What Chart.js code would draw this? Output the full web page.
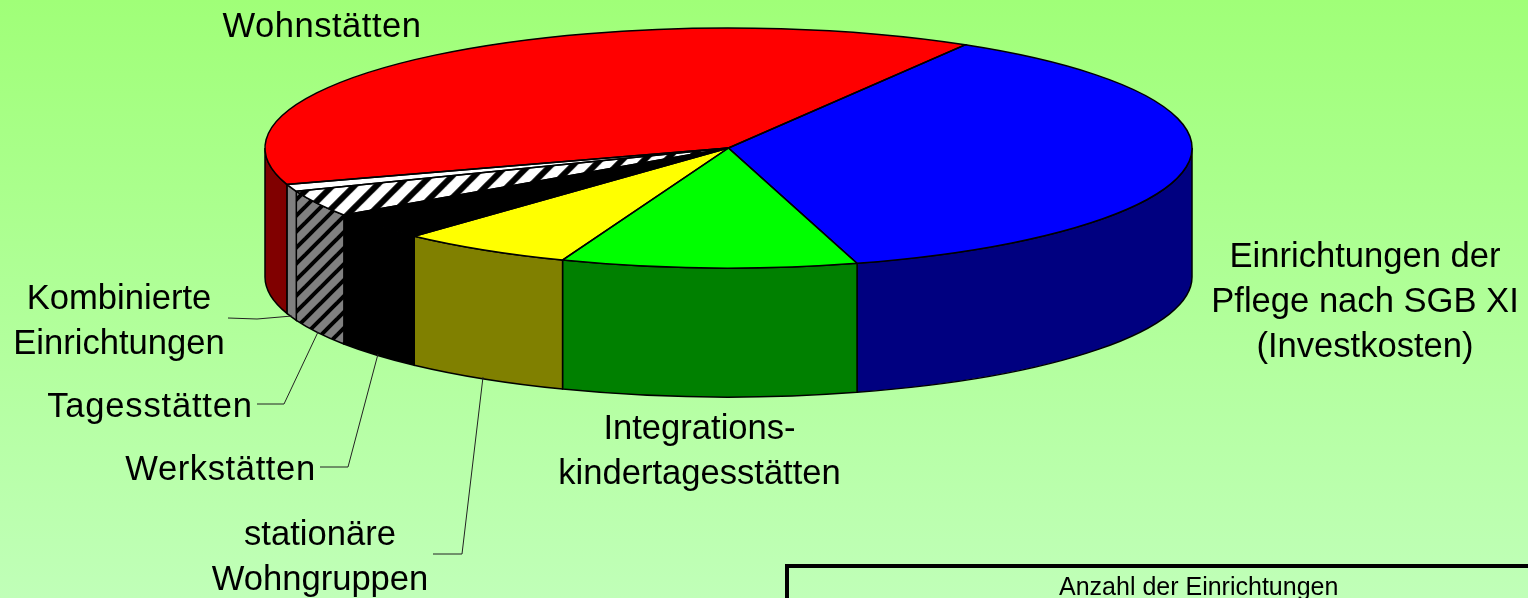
<!DOCTYPE html>
<html lang="de">
<head>
<meta charset="utf-8">
<title>Anzahl der Einrichtungen</title>
<script src="https://cdn.jsdelivr.net/npm/chart.js@4/dist/chart.umd.js"></script>
<style>
    html, body { margin: 0; padding: 0; width: 1528px; height: 598px; overflow: hidden; }
    body { position: relative; background: linear-gradient(to bottom, #a0ff78, #c0ffb8); }
    #pie { position: absolute; left: 0; top: 0; }
    #box {
        position: absolute; left: 785px; top: 564px; width: 760px; height: 60px;
        border-top: 4px solid #000; border-left: 4px solid #000;
        font: 25px "Liberation Sans", Arial, sans-serif; color: #000;
    }
    #box span { position: absolute; left: 270px; top: 4px; white-space: nowrap; }
</style>
</head>
<body>
<canvas id="pie" width="1528" height="598"></canvas>
<div id="box"><span>Anzahl der Einrichtungen</span></div>
<script>
// Data, clockwise from the blue slice (share in percent)
const categories = [
    'Einrichtungen der Pflege nach SGB XI (Investkosten)',
    'Integrationskindertagesstätten',
    'stationäre Wohngruppen',
    'Werkstätten',
    'Tagesstätten',
    'Kombinierte Einrichtungen',
    'Wohnstätten'
];
const shares = [37.0, 10.3, 6.03, 3.72, 3.54, 0.97, 38.44];

const topColors = ['#0000ff', '#00ff00', '#ffff00', '#000000', 'hatch', '#ffffff', '#ff0000'];
const wallColors = ['#000080', '#008000', '#808000', '#000000', 'hatch', '#808080', '#800000'];

// Wrapped labels with their anchor (x = centre, y = baseline of the first line)
const labelLines = [
    ['Einrichtungen der', 'Pflege nach SGB XI', '(Investkosten)'],
    ['Integrations-', 'kindertagesstätten'],
    ['stationäre', 'Wohngruppen'],
    ['Werkstätten'],
    ['Tagesstätten'],
    ['Kombinierte', 'Einrichtungen'],
    ['Wohnstätten']
];
const labelAnchors = [[1365, 267], [699.5, 439], [320, 545], [220.5, 480], [150, 417], [119, 309], [322, 37]];
const labelSpacing = [0, 0, 0, 0.6, 0.8, 0, 0.5];
const leaderLines = [
    [[228, 318], [257, 319], [292, 316]],
    [[257, 404], [284, 404], [318, 332]],
    [[320, 467], [348, 467], [378, 354]],
    [[433, 554], [462, 554], [483, 377]]
];

// Look of the tilted pie
const pieX = 728.5, pieY = 148, radiusX = 463.5, radiusY = 120, wallDepth = 129;
const labelFont = '34.6px "Liberation Sans", Arial, sans-serif';

const makeHatch = (bg, fg, size, width) => {
    const tile = document.createElement('canvas');
    tile.width = tile.height = size;
    const c = tile.getContext('2d');
    c.fillStyle = bg;
    c.fillRect(0, 0, size, size);
    c.strokeStyle = fg;
    c.lineWidth = width;
    [[-size, size, size, -size], [0, 2 * size, 2 * size, 0], [-size, 2 * size, size, 0]].forEach(l => {
        c.beginPath();
        c.moveTo(l[0], l[1]);
        c.lineTo(l[2], l[3]);
        c.stroke();
    });
    return c.createPattern(tile, 'repeat');
};

const ctx = document.getElementById('pie').getContext('2d');
const topHatch = makeHatch('#ffffff', '#000000', 22, 6);
const wallHatch = makeHatch('#808080', '#000000', 16, 4);

const pie3d = {
    id: 'pie3d',
    beforeDatasetsDraw(chart) {
        const c = chart.ctx;
        const arcs = chart.getDatasetMeta(0).data;
        // side walls: only the part of each slice facing the viewer
        c.save();
        c.lineWidth = 1.5;
        c.strokeStyle = '#000';
        arcs.forEach((arc, i) => {
            [-2 * Math.PI, 0, 2 * Math.PI].forEach(off => {
                const a = Math.max(arc.startAngle, off);
                const b = Math.min(arc.endAngle, off + Math.PI);
                if (b <= a) return;
                c.beginPath();
                c.ellipse(pieX, pieY, radiusX, radiusY, 0, a, b);
                c.ellipse(pieX, pieY + wallDepth, radiusX, radiusY, 0, b, a, true);
                c.closePath();
                c.fillStyle = wallColors[i] === 'hatch' ? wallHatch : wallColors[i];
                c.fill();
                c.stroke();
            });
        });
        c.restore();
        // squash the round pie into the ellipse
        const r = arcs[0].outerRadius;
        const sx = radiusX / r, sy = radiusY / r;
        topHatch.setTransform(new DOMMatrix().scale(1 / sx, 1 / sy));
        c.save();
        c.translate(pieX, pieY);
        c.scale(sx, sy);
        c.translate(-arcs[0].x, -arcs[0].y);
    },
    afterDatasetsDraw(chart) {
        const c = chart.ctx;
        c.restore();
        // outlines here so the line width is not squashed too
        c.save();
        c.lineWidth = 1.5;
        c.strokeStyle = '#000';
        chart.getDatasetMeta(0).data.forEach(arc => {
            c.beginPath();
            c.moveTo(pieX, pieY);
            c.ellipse(pieX, pieY, radiusX, radiusY, 0, arc.startAngle, arc.endAngle);
            c.closePath();
            c.stroke();
        });
        // leader lines
        c.lineWidth = 1;
        c.strokeStyle = '#222';
        leaderLines.forEach(line => {
            c.beginPath();
            line.forEach((p, i) => i ? c.lineTo(p[0], p[1]) : c.moveTo(p[0], p[1]));
            c.stroke();
        });
        // slice labels
        c.font = labelFont;
        c.fillStyle = '#000';
        c.textAlign = 'center';
        labelLines.forEach((lines, i) => {
            c.letterSpacing = labelSpacing[i] + 'px';
            lines.forEach((text, j) => {
                c.fillText(text, labelAnchors[i][0], labelAnchors[i][1] + j * 45);
            });
        });
        c.restore();
    }
};

new Chart(ctx, {
    type: 'pie',
    data: {
        labels: categories,
        datasets: [{
            data: shares,
            backgroundColor: topColors.map(col => col === 'hatch' ? topHatch : col),
            borderWidth: 0,
            clip: false
        }]
    },
    options: {
        responsive: false,
        animation: false,
        rotation: 30.7,
        plugins: { legend: { display: false }, tooltip: { enabled: false } }
    },
    plugins: [pie3d]
});
</script>
</body>
</html>
